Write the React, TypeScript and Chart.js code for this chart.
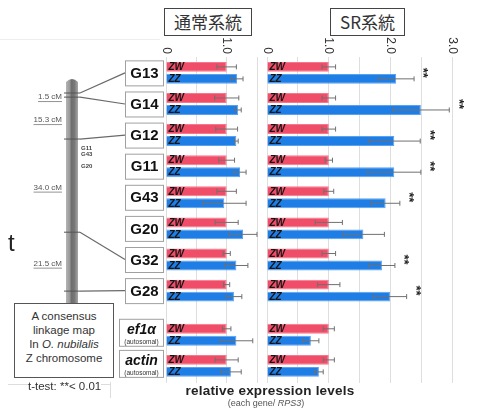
import React, { useEffect, useRef } from 'react';
import { Chart, registerables } from 'chart.js';

Chart.register(...registerables);

const FONT = '"Liberation Sans", Arial, Helvetica, sans-serif';
const CJK = '"Noto Sans CJK JP", "Noto Sans CJK SC", sans-serif';

// ---------- data ----------
const genes = ['G13', 'G14', 'G12', 'G11', 'G43', 'G20', 'G32', 'G28', 'ef1α', 'actin'];
const chromosome = ['Z', 'Z', 'Z', 'Z', 'Z', 'Z', 'Z', 'Z', 'autosomal', 'autosomal'];

const normalZW = [1.0, 1.0, 1.0, 1.0, 1.0, 1.0, 1.0, 1.0, 1.0, 1.0];
const normalZWErr = [0.16, 0.2, 0.18, 0.13, 0.16, 0.19, 0.06, 0.05, 0.07, 0.19];
const normalZZ = [1.17, 1.19, 1.16, 1.22, 0.96, 1.27, 1.16, 1.12, 1.16, 1.07];
const normalZZErr = [0.1, 0.05, 0.03, 0.1, 0.36, 0.23, 0.19, 0.13, 0.27, 0.17];

const srZW = [1.0, 1.0, 1.0, 1.0, 1.0, 1.0, 1.0, 1.0, 1.0, 1.0];
const srZWErr = [0.11, 0.11, 0.11, 0.06, 0.08, 0.22, 0.11, 0.18, 0.09, 0.09];
const srZZ = [2.09, 2.49, 2.06, 2.06, 1.92, 1.56, 1.86, 1.99, 0.71, 0.84];
const srZZErr = [0.29, 0.46, 0.42, 0.43, 0.23, 0.34, 0.21, 0.27, 0.13, 0.07];

const significant = [true, true, true, true, true, false, true, true, false, false];

const normalTicks = [0, 1];
const normalTickLabels = ['0', '1.0'];
const srTicks = [0, 1, 2, 3];
const srTickLabels = ['0', '1.0', '2.0', '3.0'];

// linkage map (cM from G13)
const mapGenes = ['G13', 'G14', 'G12', 'G32', 'G28'];
const mapCM = [0, 1.5, 16.8, 50.8, 72.3];
const unmappedGenes = ['G11', 'G43', 'G20'];

// ---------- layout helpers ----------
const AUTOSOMAL_GAP = 0.42;
const Y_MIN = -0.51;
const Y_MAX = 9.97;
const positions = genes.map((_, i) => i + (chromosome[i] === 'autosomal' ? AUTOSOMAL_GAP : 0));

const ZW_COLOR = '#f04d68';
const ZW_BORDER = '#f7788c';
const ZZ_COLOR = '#1f7de6';
const ZZ_BORDER = '#5aa2f0';

const tickLabelPlugin = (ticks: number[], labels: string[]) => ({
  id: 'rotTicks',
  afterDraw(chart: any) {
    const ctx = chart.ctx;
    const xs = chart.scales.x;
    const top = chart.chartArea.top;
    ctx.save();
    ctx.fillStyle = '#333';
    ctx.font = `12px ${FONT}`;
    ticks.forEach((t, i) => {
      ctx.save();
      ctx.translate(xs.getPixelForValue(t), top - 3);
      ctx.rotate(Math.PI / 2);
      ctx.textAlign = 'right';
      ctx.textBaseline = 'middle';
      ctx.fillText(labels[i], 0, 0);
      ctx.restore();
    });
    ctx.restore();
  },
});

const barDecorPlugin = (errs: number[][], stars: boolean) => ({
  id: 'barDecor',
  afterDatasetsDraw(chart: any) {
    const ctx = chart.ctx;
    const xs = chart.scales.x;
    const ys = chart.scales.y;
    ctx.save();
    chart.data.datasets.forEach((ds: any, di: number) => {
      const meta = chart.getDatasetMeta(di);
      meta.data.forEach((bar: any, i: number) => {
        ctx.fillStyle = '#151515';
        ctx.font = `bold italic 10px ${FONT}`;
        ctx.textAlign = 'left';
        ctx.textBaseline = 'middle';
        ctx.fillText(ds.label, bar.base + 2, bar.y + 0.5);
        const v = ds.data[i].x;
        const e = errs[di][i];
        const x1 = xs.getPixelForValue(v - e);
        const x2 = xs.getPixelForValue(v + e);
        ctx.strokeStyle = '#707070';
        ctx.lineWidth = 1;
        ctx.beginPath();
        ctx.moveTo(x1, bar.y);
        ctx.lineTo(x2, bar.y);
        ctx.moveTo(x1, bar.y - 2.5);
        ctx.lineTo(x1, bar.y + 2.5);
        ctx.moveTo(x2, bar.y - 2.5);
        ctx.lineTo(x2, bar.y + 2.5);
        ctx.stroke();
      });
    });
    if (stars) {
      ctx.fillStyle = '#222';
      ctx.font = `bold 13px ${FONT}`;
      genes.forEach((g, i) => {
        if (!significant[i]) return;
        let end = 0;
        chart.data.datasets.forEach((ds: any, di: number) => {
          end = Math.max(end, xs.getPixelForValue(ds.data[i].x + errs[di][i]));
        });
        ctx.save();
        ctx.translate(end + 9, ys.getPixelForValue(positions[i]));
        ctx.rotate(Math.PI / 2);
        ctx.textAlign = 'center';
        ctx.textBaseline = 'middle';
        ctx.fillText('**', 0, 0);
        ctx.restore();
      });
    }
    ctx.restore();
  },
});

const linkagePlugin = {
  id: 'linkage',
  afterDraw(chart: any) {
    const ctx = chart.ctx;
    const ys = chart.scales.y;
    const left = chart.chartArea.left;
    const boxRight = left - 2;
    const cmTop = 93;
    const cmPx = 2.74;
    const cmY = (cm: number) => cmTop + cm * cmPx;
    ctx.save();

    const cx0 = 66, cx1 = 78;
    const grad = ctx.createLinearGradient(cx0, 0, cx1, 0);
    grad.addColorStop(0, '#b4b4b4');
    grad.addColorStop(0.3, '#9a9a9a');
    grad.addColorStop(0.45, '#6e6e6e');
    grad.addColorStop(0.7, '#777');
    grad.addColorStop(1, '#a8a8a8');
    ctx.fillStyle = grad;
    ctx.beginPath();
    ctx.moveTo(cx0, 82);
    ctx.quadraticCurveTo((cx0 + cx1) / 2, 76, cx1, 82);
    ctx.lineTo(cx1, 310);
    ctx.lineTo(cx0, 310);
    ctx.closePath();
    ctx.fill();

    mapGenes.forEach((g, k) => {
      const y = cmY(mapCM[k]);
      ctx.strokeStyle = '#555';
      ctx.lineWidth = 1;
      ctx.beginPath();
      ctx.moveTo(64, y);
      ctx.lineTo(80, y);
      ctx.stroke();
      const gi = genes.indexOf(g);
      const by = ys.getPixelForValue(positions[gi]);
      ctx.strokeStyle = '#6a6a6a';
      ctx.lineWidth = 1.2;
      ctx.beginPath();
      ctx.moveTo(80, y);
      ctx.lineTo(boxRight - 39, by);
      ctx.stroke();
    });

    ctx.font = `8px ${FONT}`;
    ctx.fillStyle = '#555';
    ctx.textAlign = 'right';
    ctx.textBaseline = 'middle';
    for (let k = 1; k < mapCM.length; k++) {
      const d = mapCM[k] - mapCM[k - 1];
      const label = `${d.toFixed(1)} cM`;
      const y = (cmY(mapCM[k]) + cmY(mapCM[k - 1])) / 2 + 2;
      ctx.fillText(label, 62, y);
      const w = ctx.measureText(label).width;
      ctx.beginPath();
      ctx.moveTo(62 - w, y + 4.5);
      ctx.lineTo(62, y + 4.5);
      ctx.strokeStyle = '#777';
      ctx.lineWidth = 0.8;
      ctx.stroke();
    }

    genes.forEach((g, i) => {
      const y = ys.getPixelForValue(positions[i]);
      const auto = chromosome[i] === 'autosomal';
      const x0 = auto ? boxRight - 45 : boxRight - 39;
      const top = auto ? y - 16 : y - 12.5;
      const h = auto ? 28 : 26;
      ctx.fillStyle = '#fff';
      ctx.fillRect(x0, top, boxRight - x0, h);
      ctx.strokeStyle = '#a0a0a0';
      ctx.lineWidth = 1;
      ctx.strokeRect(x0 + 0.5, top + 0.5, boxRight - x0 - 1, h - 1);
      ctx.fillStyle = '#111';
      ctx.textAlign = 'center';
      ctx.textBaseline = 'middle';
      const mid = (x0 + boxRight) / 2;
      if (auto) {
        ctx.font = `bold italic 14px ${FONT}`;
        ctx.fillText(g, mid, y - 5);
        ctx.font = `6.5px ${FONT}`;
        ctx.fillStyle = '#333';
        ctx.fillText('(autosomal)', mid, y + 7);
      } else {
        ctx.font = `bold 15px ${FONT}`;
        ctx.fillText(g, mid, y + 1);
      }
    });
    ctx.restore();
  },
};

function buildConfig(zw: number[], zz: number[], xMax: number, padding: any, extra: any[]): any {
  const ds = (label: string, vals: number[], bg: string, bd: string) => ({
    label,
    data: vals.map((v, i) => ({ x: v, y: positions[i] })),
    backgroundColor: bg,
    borderColor: bd,
    borderWidth: 1,
    categoryPercentage: 0.77,
    barPercentage: 0.83,
  });
  return {
    type: 'bar',
    data: {
      datasets: [ds('ZW', zw, ZW_COLOR, ZW_BORDER), ds('ZZ', zz, ZZ_COLOR, ZZ_BORDER)],
    },
    options: {
      indexAxis: 'y',
      responsive: false,
      animation: false,
      layout: { padding },
      plugins: { legend: { display: false }, tooltip: { enabled: false } },
      scales: {
        x: {
          type: 'linear',
          position: 'top',
          min: 0,
          max: xMax,
          ticks: { display: false, stepSize: 0.5, includeBounds: false },
          grid: { color: '#dedede', drawTicks: false, lineWidth: 1 },
          border: { display: false },
        },
        y: {
          type: 'linear',
          reverse: true,
          min: Y_MIN,
          max: Y_MAX,
          offset: false,
          display: false,
          afterBuildTicks: (scale: any) => {
            scale.ticks = positions.map((v) => ({ value: v }));
          },
        },
      },
    },
    plugins: extra,
  };
}

export default function App() {
  const leftRef = useRef<HTMLCanvasElement>(null);
  const rightRef = useRef<HTMLCanvasElement>(null);

  useEffect(() => {
    const c1 = new Chart(
      leftRef.current as HTMLCanvasElement,
      buildConfig(normalZW, normalZZ, 1.5, { left: 166, right: 5, top: 57, bottom: 27 }, [
        linkagePlugin,
        barDecorPlugin([normalZWErr, normalZZErr], false),
        tickLabelPlugin(normalTicks, normalTickLabels),
      ])
    );
    const c2 = new Chart(
      rightRef.current as HTMLCanvasElement,
      buildConfig(srZW, srZZ, 3.35, { left: 5, right: 6, top: 57, bottom: 27 }, [
        barDecorPlugin([srZWErr, srZZErr], true),
        tickLabelPlugin(srTicks, srTickLabels),
      ])
    );
    return () => {
      c1.destroy();
      c2.destroy();
    };
  }, []);

  const abs = (s: any): any => ({ position: 'absolute', whiteSpace: 'nowrap', ...s });

  return (
    <div style={{ position: 'fixed', left: 0, top: 0, width: 480, height: 410, background: '#fff', overflow: 'hidden', fontFamily: FONT }}>
      <div style={abs({ left: 0, top: 39, width: 160, height: 1, background: '#eee' })} />
      <canvas ref={leftRef} width={262} height={410} style={{ position: 'absolute', left: 0, top: 0 }} />
      <canvas ref={rightRef} width={218} height={410} style={{ position: 'absolute', left: 262, top: 0 }} />

      <div style={abs({ left: 164, top: 8, width: 86, height: 26, border: '1px solid #444', fontFamily: CJK, fontSize: 17, lineHeight: '26px', textAlign: 'center', color: '#333', background: '#fff' })}>通常系統</div>
      <div style={abs({ left: 330, top: 8, width: 73, height: 26, border: '1px solid #444', fontFamily: CJK, fontSize: 17, lineHeight: '26px', textAlign: 'center', color: '#333', background: '#fff' })}>SR系統</div>

      <div style={abs({ left: 8, top: 228, fontSize: 24, lineHeight: '30px', color: '#222' })}>t</div>

      {unmappedGenes.map((g, i) => (
        <div key={g} style={abs({ left: 81, top: [145, 151, 163][i], fontSize: 6, fontWeight: 'bold', color: '#444', lineHeight: '7px' })}>{g}</div>
      ))}

      <div style={abs({ left: 14, top: 303, width: 100, height: 75, border: '1px solid #555', background: '#fff', fontSize: 11.5, lineHeight: '14px', color: '#333', textAlign: 'center', paddingTop: 5, boxSizing: 'border-box' })}>
        A consensus<br />linkage map<br />In <i>O. nubilalis</i><br />Z chromosome
      </div>

      <div style={abs({ left: 8, top: 384, width: 102, height: 1, background: '#ddd' })} />
      <div style={abs({ left: 110, top: 382, width: 1, height: 16, background: '#ddd' })} />
      <div style={abs({ left: 28, top: 379, fontSize: 11.5, lineHeight: '14px', color: '#333', background: '#fff' })}>t-test: **&lt; 0.01</div>

      <div style={abs({ left: 170, top: 383, width: 200, textAlign: 'center', fontSize: 13.5, fontWeight: 'bold', lineHeight: '16px', color: '#222', letterSpacing: 0.2 })}>relative expression levels</div>
      <div style={abs({ left: 166, top: 398, width: 200, textAlign: 'center', fontSize: 9, lineHeight: '11px', color: '#555' })}>(each gene/ <i>RPS3</i>)</div>
    </div>
  );
}
